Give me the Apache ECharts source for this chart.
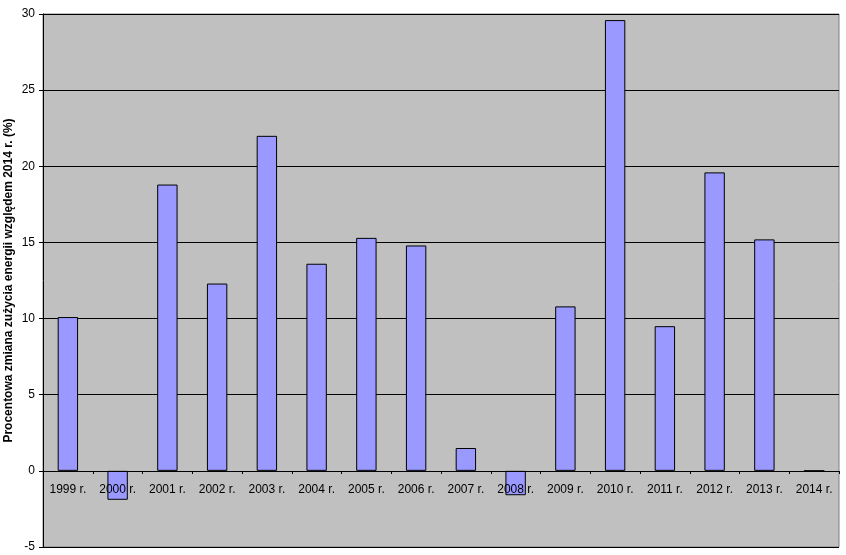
<!DOCTYPE html>
<html>
<head>
    <meta charset="utf-8">
    <title>Procentowa zmiana zużycia energii</title>
    <script src="https://cdn.jsdelivr.net/npm/echarts@6/dist/echarts.min.js"></script>
    <style>
        html, body { margin: 0; padding: 0; background: #fff; }
        #main { width: 846px; height: 555px; }
    </style>
</head>
<body>
<div id="main"></div>
<script type="text/javascript">
    // lata
    var categories = ['1999 r.', '2000 r.', '2001 r.', '2002 r.', '2003 r.', '2004 r.', '2005 r.', '2006 r.',
        '2007 r.', '2008 r.', '2009 r.', '2010 r.', '2011 r.', '2012 r.', '2013 r.', '2014 r.'];
    // zmiana w % względem 2014
    var values = [10.1, -1.9, 18.8, 12.3, 22.0, 13.6, 15.3, 14.8, 1.5, -1.6, 10.8, 29.6, 9.5, 19.6, 15.2, 0];
    var yTitle = 'Procentowa zmiana zużycia energii względem 2014 r. (%)';

    var myChart = echarts.init(document.getElementById('main'));

    var option = {
        animation: false,
        textStyle: { fontFamily: 'Liberation Sans, Arial, sans-serif' },
        grid: {
            left: 43,
            right: 7,
            top: 14,
            bottom: 8,
            containLabel: false,
            outerBoundsMode: 'none',
            show: true,
            backgroundColor: '#c0c0c0',
            borderColor: '#808080',
            borderWidth: 1
        },
        xAxis: {
            type: 'category',
            data: categories,
            z: 5,
            // os X przesunieta na poziom zera (-5..30 -> zero 76px nad dolem)
            offset: -76,
            axisLine: { onZero: false, lineStyle: { color: '#000', width: 1 } },
            axisTick: { show: true, length: 3, lineStyle: { color: '#000' } },
            axisLabel: { color: '#000', fontSize: 12, margin: 13 }
        },
        yAxis: {
            type: 'value',
            min: -5,
            max: 30,
            interval: 5,
            name: yTitle,
            nameLocation: 'middle',
            nameGap: 28,
            nameMoveOverlap: false,
            nameTextStyle: { fontWeight: 'bold', fontSize: 12, color: '#000' },
            axisLine: { show: true, lineStyle: { color: '#000' } },
            axisTick: { show: true, length: 4, lineStyle: { color: '#000' } },
            axisLabel: { color: '#000', fontSize: 12, margin: 8 },
            splitLine: { show: true, lineStyle: { color: '#000', width: 1 } }
        },
        series: [{
            type: 'bar',
            data: values,
            barWidth: '41%',
            itemStyle: { color: '#9999ff', borderColor: '#000', borderWidth: 1 }
        }]
    };

    myChart.setOption(option);
</script>
</body>
</html>
